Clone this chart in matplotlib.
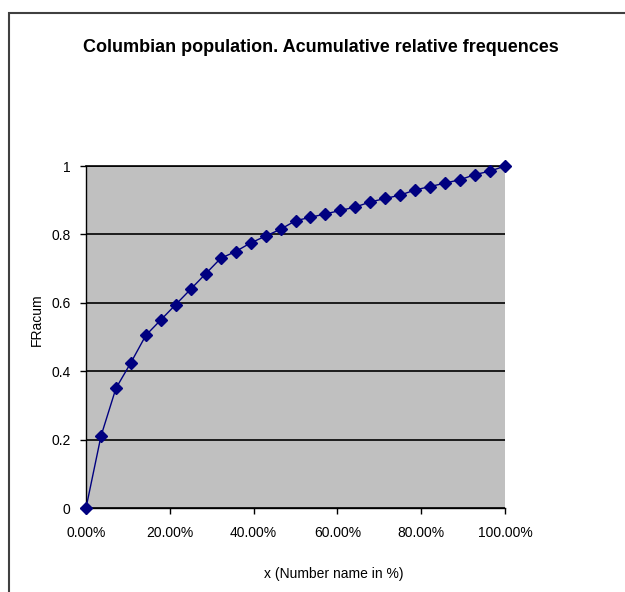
import numpy as np
import matplotlib.pyplot as plt
from matplotlib.patches import Rectangle
from matplotlib.ticker import FuncFormatter

# share of names (as fraction) and accumulated relative frequency
x_share = np.arange(29) / 28
fr_acum = [0, 0.21, 0.35, 0.425, 0.505, 0.55, 0.595, 0.64, 0.685, 0.73,
           0.75, 0.775, 0.795, 0.815, 0.84, 0.85, 0.86, 0.87, 0.88, 0.895,
           0.905, 0.915, 0.93, 0.94, 0.95, 0.96, 0.975, 0.985, 1.0]

x_ticks = [0, 0.2, 0.4, 0.6, 0.8, 1.0]
y_ticks = [0, 0.2, 0.4, 0.6, 0.8, 1.0]
y_ticklabels = ['0', '0.2', '0.4', '0.6', '0.8', '1']

plt.rcParams['font.family'] = ['Liberation Sans', 'DejaVu Sans']

fig = plt.figure(figsize=(6.25, 5.92), dpi=100)
W, H = 625, 592

# outer chart border (Excel chart area)
fig.patches.append(Rectangle((8.5 / W, -0.2), 1.2, 1.2 - 13 / H, transform=fig.transFigure,
                             fill=False, edgecolor='#404040', linewidth=1.5))

ax = fig.add_axes([86 / W, 1 - 508 / H, (505 - 86) / W, (508 - 166) / H])
ax.set_facecolor('#c0c0c0')
ax.plot(x_share, fr_acum, color='#000080', marker='D', markersize=6,
        linewidth=1, clip_on=False, zorder=3)

ax.set_xlim(0, 1)
ax.set_ylim(0, 1)
ax.set_xticks(x_ticks)
ax.xaxis.set_major_formatter(FuncFormatter(lambda v, p: '%.2f%%' % (v * 100)))
ax.set_yticks(y_ticks)
ax.set_yticklabels(y_ticklabels)
ax.grid(axis='y', color='black', linewidth=1.2)
ax.set_axisbelow(True)
ax.spines['right'].set_visible(False)
ax.spines['top'].set_color('black')
ax.spines['top'].set_linewidth(1.2)
for s in ['left', 'bottom']:
    ax.spines[s].set_color('black')
    ax.spines[s].set_linewidth(1)
ax.tick_params(axis='both', direction='out', length=4, width=1, labelsize=10, colors='black')
ax.tick_params(axis='x', pad=9)
ax.tick_params(axis='y', pad=7)

fig.text(321 / W, 1 - 48 / H, 'Columbian population. Acumulative relative frequences',
         ha='center', va='center', fontsize=13, fontweight='bold', stretch='condensed')
fig.text(334 / W, 1 - 574 / H, 'x (Number name in %)', ha='center', va='center', fontsize=10)
fig.text(37 / W, 1 - 320 / H, 'FRacum', ha='center', va='center', rotation=90, fontsize=10)

fig.savefig('out.png', dpi=100)
